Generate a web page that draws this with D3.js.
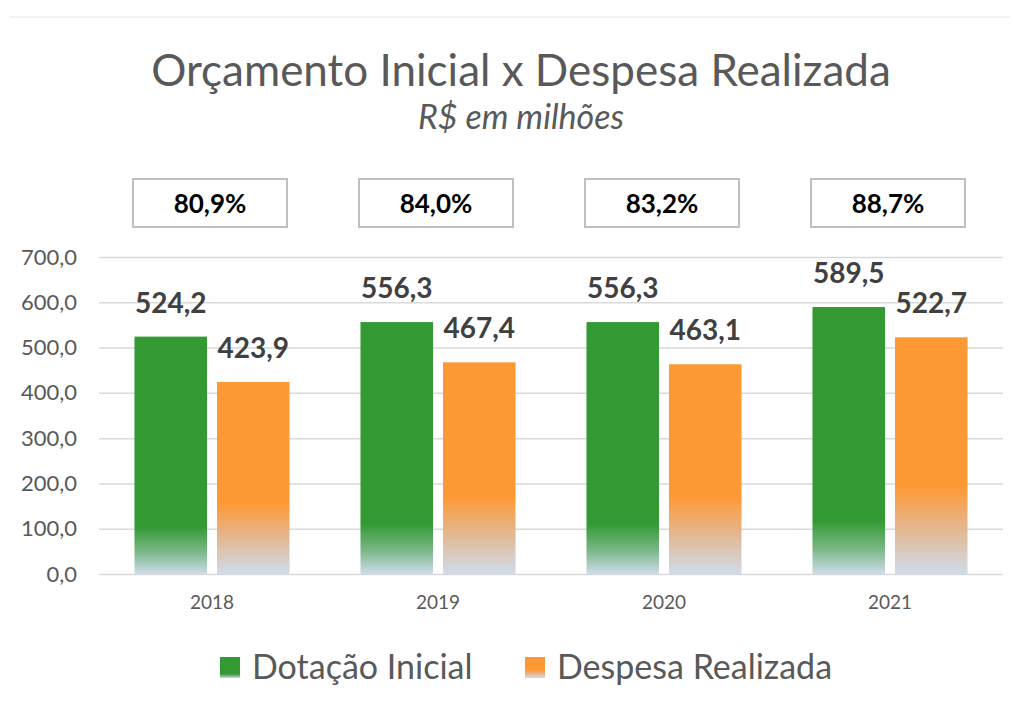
<!DOCTYPE html>
<html>
<head>
<meta charset="utf-8">
<script src="https://cdn.jsdelivr.net/npm/d3@7"></script>
<style>
  body { margin: 0; background: #fff; }
  svg { display: block; font-family: Lato, "Open Sans", sans-serif; }
</style>
</head>
<body>
<svg width="1014" height="702"></svg>
<script>
const years = ["2018", "2019", "2020", "2021"];
const series = ["Dotação Inicial", "Despesa Realizada"];
const dotacao = [524.2, 556.3, 556.3, 589.5];
const despesa = [423.9, 467.4, 463.1, 522.7];
const percent = ["80,9%", "84,0%", "83,2%", "88,7%"];
const yTicks = [0, 100, 200, 300, 400, 500, 600, 700];
const colors = ["#339933", "#fd9934"];

const data = years.map((y, i) => ({year: y, values: [dotacao[i], despesa[i]], pct: percent[i]}));

const svg = d3.select("svg");
const fmt = v => d3.format(".1f")(v).replace(".", ",");

// chart border line at top
svg.append("line")
  .attr("x1", 10).attr("x2", 1010).attr("y1", 17).attr("y2", 17)
  .attr("stroke", "#ececec").attr("stroke-width", 1.5);

// gradients
const defs = svg.append("defs");
const gradGreen = defs.append("linearGradient").attr("id", "g0")
  .attr("x1", 0).attr("y1", 0).attr("x2", 0).attr("y2", 1);
gradGreen.append("stop").attr("offset", 0).attr("stop-color", colors[0]);
gradGreen.append("stop").attr("offset", 0.8).attr("stop-color", colors[0]);
gradGreen.append("stop").attr("offset", 0.91).attr("stop-color", "#7db98a");
gradGreen.append("stop").attr("offset", 1).attr("stop-color", "#cfdcec");
const gradOrange = defs.append("linearGradient").attr("id", "g1")
  .attr("x1", 0).attr("y1", 0).attr("x2", 0).attr("y2", 1);
gradOrange.append("stop").attr("offset", 0).attr("stop-color", colors[1]);
gradOrange.append("stop").attr("offset", 0.63).attr("stop-color", colors[1]);
gradOrange.append("stop").attr("offset", 0.82).attr("stop-color", "#e2b995");
gradOrange.append("stop").attr("offset", 1).attr("stop-color", "#cfdcec");

const x0 = d3.scaleBand().domain(years).range([99, 1003])
  .paddingInner(0.314).paddingOuter(0.157);
const x1 = d3.scaleBand().domain([0, 1]).range([0, x0.bandwidth()])
  .paddingInner(0.121);
const y = d3.scaleLinear().domain([0, 700]).range([574, 257]);

// title
svg.append("text")
  .attr("x", 521).attr("y", 86)
  .attr("text-anchor", "middle")
  .attr("font-size", 44).attr("fill", "#595959")
  .text("Orçamento Inicial x Despesa Realizada");
svg.append("text")
  .attr("x", 521).attr("y", 129)
  .attr("text-anchor", "middle")
  .attr("font-size", 34).attr("font-style", "italic").attr("fill", "#595959")
  .text("R$ em milhões");

// grid + y labels
const yAxis = svg.append("g")
  .attr("transform", "translate(99,0)")
  .call(d3.axisLeft(y).tickValues(yTicks).tickSize(-904).tickFormat(fmt).tickPadding(22));
yAxis.select(".domain").remove();
yAxis.selectAll(".tick line").attr("stroke", "#d9d9d9").attr("stroke-width", 1.5);
yAxis.selectAll(".tick text").attr("fill", "#595959").attr("font-size", 22)
  .attr("font-family", "Lato, sans-serif");

// x labels
const xAxis = svg.append("g")
  .attr("transform", "translate(0,574)")
  .call(d3.axisBottom(x0).tickSize(0).tickPadding(22));
xAxis.select(".domain").remove();
xAxis.selectAll(".tick text").attr("fill", "#595959").attr("font-size", 19)
  .attr("font-family", "Lato, sans-serif");

// bars
const groups = svg.selectAll(".grp").data(data).enter().append("g")
  .attr("class", "grp")
  .attr("transform", d => `translate(${x0(d.year)},0)`);

groups.selectAll("rect").data(d => d.values).enter().append("rect")
  .attr("x", (v, i) => x1(i))
  .attr("y", v => y(v))
  .attr("width", x1.bandwidth())
  .attr("height", v => y(0) - y(v))
  .attr("fill", (v, i) => `url(#g${i})`);

groups.selectAll(".val").data(d => d.values).enter().append("text")
  .attr("class", "val")
  .attr("x", (v, i) => x1(i) + x1.bandwidth() / 2)
  .attr("y", v => y(v) - 24)
  .attr("text-anchor", "middle")
  .attr("font-size", 28).attr("font-weight", "bold").attr("fill", "#404040")
  .text(fmt);

// percentage boxes
groups.append("rect")
  .attr("x", x0.bandwidth() / 2 - 79)
  .attr("y", 179).attr("width", 154).attr("height", 48)
  .attr("fill", "#fff").attr("stroke", "#bfbfbf").attr("stroke-width", 2);
groups.append("text")
  .attr("x", x0.bandwidth() / 2 - 2)
  .attr("y", 213)
  .attr("text-anchor", "middle")
  .attr("font-size", 26).attr("font-weight", "bold").attr("fill", "#000")
  .text(d => d.pct);

// legend
const legendX = [220, 525];
const legend = svg.selectAll(".leg").data(series).enter().append("g")
  .attr("class", "leg")
  .attr("transform", (d, i) => `translate(${legendX[i]},657)`);
legend.append("rect")
  .attr("width", 20).attr("height", 21)
  .attr("fill", (d, i) => `url(#g${i})`);
legend.append("text")
  .attr("x", 32).attr("y", 22)
  .attr("font-size", 34).attr("fill", "#595959")
  .text(d => d);
</script>
</body>
</html>
